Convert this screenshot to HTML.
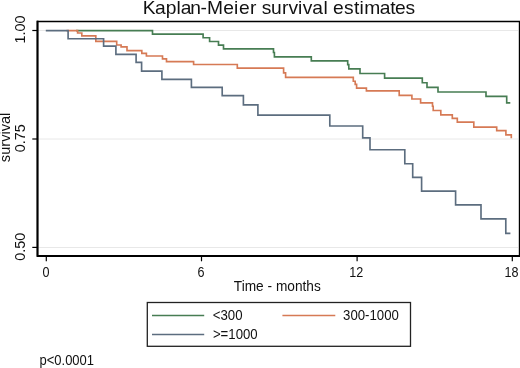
<!DOCTYPE html>
<html>
<head>
<meta charset="utf-8">
<style>
html,body{margin:0;padding:0;background:#fff;}
body{width:520px;height:368px;overflow:hidden;position:relative;}
svg{position:absolute;left:0;top:0;will-change:transform;}
text{font-family:"Liberation Sans",sans-serif;fill:#111;}
</style>
</head>
<body>
<svg width="520" height="368" viewBox="0 0 520 368">
  <rect x="0" y="0" width="520" height="368" fill="#fff"/>
  <!-- title -->
  <text x="142.70 155.10 165.78 176.46 180.72 190.31 200.58 206.99 223.37 234.06 239.02 250.10 256.90 261.63 270.94 282.01 288.50 298.01 302.78 312.37 323.46 327.33 332.95 343.94 354.03 359.48 364.14 379.64 390.32 395.06 405.43" y="13.8" font-size="19.22">Kaplan-Meier survival estimates</text>

  <!-- gridlines -->
  <g stroke="#e8e8e8" stroke-width="1">
    <line x1="38" y1="30.5" x2="518" y2="30.5"/>
    <line x1="38" y1="139" x2="518" y2="139"/>
    <line x1="38" y1="247.5" x2="518" y2="247.5"/>
  </g>

  <!-- curves -->
  <g fill="none" stroke-width="1.65" stroke-linejoin="miter">
    <path stroke="#477d53" d="M76 30.6 H152.5 V34.1 H203.1 V37.7 H209.6 V41.5 H218.5 V45.1 H223.5 V48.8 H273.5 V52.5 H274.4 V56.9 H311.3 V60.8 H347.7 V64.7 H348.8 V68.8 H360 V73.5 H384.6 V78.1 H422.3 V82.7 H427 V87.3 H438 V92 H486 V96.3 H506.7 V102.9 H510.3"/>
    <path stroke="#d67a55" d="M66.5 30.6 H77.6 V33 H81.8 V35.9 H95.8 V41.3 H116.7 V45 H121.1 V46.9 H127 V50.6 H141.8 V53.3 H146.4 V56 H162.5 V58.8 H166.5 V61.6 H193.6 V64.5 H237.3 V68.1 H283.6 V72.9 H285.6 V77.3 H353.3 V81.2 H355.2 V84.4 H356.6 V88.1 H366.4 V90.9 H399.2 V95.3 H411.9 V99 H420.6 V102.9 H432.5 V106.2 H433.2 V110.5 H440.8 V114.8 H452.3 V118.4 H457.3 V122.1 H473.8 V127.1 H496.7 V130.6 H505.9 V134.8 H511.3 V138.3"/>
    <path stroke="#5c6d7f" d="M45.8 30.6 H68.1 V38.7 H103.6 V46.1 H115.9 V54.3 H136.1 V62.4 H141.6 V71.1 H161.9 V79.3 H191.4 V87.3 H222.2 V95.6 H243.4 V104.8 H257.9 V115.1 H329.8 V126 H362.7 V137.8 H370 V149.7 H404.8 V163.7 H412.7 V177.4 H421.6 V191.1 H455.6 V204.9 H481 V218.9 H505.8 V233.3 H510.4"/>
  </g>

  <!-- plot frame -->
  <g fill="none" stroke="#000">
    <path d="M37.5 256 V21.5 H519.5 V256" stroke-width="1.4"/>
    <line x1="37.5" y1="256" x2="520" y2="256" stroke-width="2"/>
    <line x1="37.5" y1="20.7" x2="37.5" y2="257" stroke-width="2"/>
  </g>
  <!-- ticks -->
  <g stroke="#000" stroke-width="1.2">
    <line x1="32.3" y1="30.5" x2="37.5" y2="30.5"/>
    <line x1="32.3" y1="139" x2="37.5" y2="139"/>
    <line x1="32.3" y1="247.4" x2="37.5" y2="247.4"/>
    <line x1="46.3" y1="256" x2="46.3" y2="261.3"/>
    <line x1="201.5" y1="256" x2="201.5" y2="261.3"/>
    <line x1="357.1" y1="256" x2="357.1" y2="261.3"/>
    <line x1="512.3" y1="256" x2="512.3" y2="261.3"/>
  </g>

  <!-- y tick labels -->
  <g font-size="14.4" text-anchor="middle">
    <text transform="translate(25,29.4) rotate(-90)">1.00</text>
    <text transform="translate(25,138.2) rotate(-90)">0.75</text>
    <text transform="translate(25,246.7) rotate(-90)">0.50</text>
    <text transform="translate(9.6,137.4) rotate(-90)" font-size="14.6">survival</text>
  </g>
  <!-- x tick labels -->
  <g font-size="13.7" text-anchor="middle">
    <text transform="translate(46,277) scale(0.92,1.12)">0</text>
    <text transform="translate(201,277) scale(0.92,1.12)">6</text>
    <text transform="translate(356.3,277) scale(0.92,1.12)">12</text>
    <text transform="translate(511.5,277) scale(0.92,1.12)">18</text>
    <text transform="translate(277.3,290.8) scale(1,1.08)">Time - months</text>
  </g>

  <!-- legend -->
  <rect x="147.3" y="302.5" width="263.2" height="43.8" fill="none" stroke="#222" stroke-width="1.3"/>
  <g stroke-width="1.5">
    <line x1="152" y1="315.4" x2="204.2" y2="315.4" stroke="#477d53"/>
    <line x1="282.4" y1="315.4" x2="335.3" y2="315.4" stroke="#d67a55"/>
    <line x1="152" y1="334.5" x2="204.2" y2="334.5" stroke="#5c6d7f"/>
  </g>
  <g font-size="13.2">
    <text transform="translate(212.8,320.1) scale(1,1.08)">&lt;300</text>
    <text transform="translate(343.1,320.1) scale(1,1.08)">300-1000</text>
    <text transform="translate(212.9,339.4) scale(1,1.1)">&gt;=1000</text>
  </g>
  <text transform="translate(39.5,365.1) scale(1,1.1)" font-size="13">p&lt;0.0001</text>
</svg>
</body>
</html>
